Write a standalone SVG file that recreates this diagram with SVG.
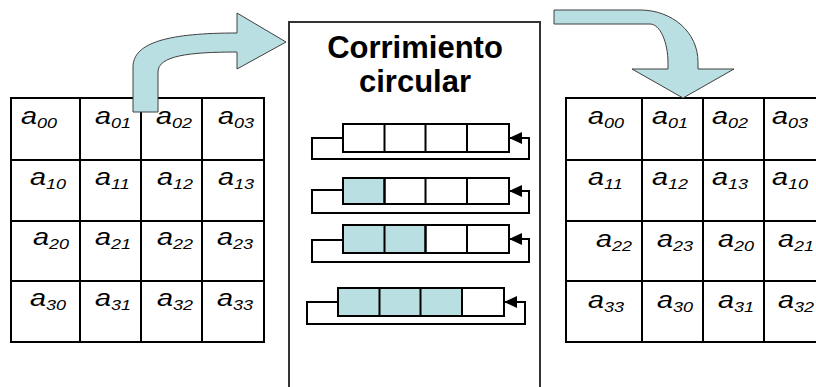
<svg xmlns="http://www.w3.org/2000/svg" width="816" height="387" viewBox="0 0 816 387">
<style>
.grid{fill:none;stroke:#000;stroke-width:2}
.cell{font-family:"Liberation Sans",Arial,sans-serif;font-style:italic;font-size:24px;fill:#000}
.sub{font-size:15px}
.title{font-family:"Liberation Sans",Arial,sans-serif;font-weight:bold;font-size:31px;fill:#000;text-anchor:middle}
.reg{stroke:#000;stroke-width:2}
.blank{fill:#fff}
.fill{fill:#BADFE2}
.loop{fill:none;stroke:#000;stroke-width:2}
.bent{fill:#BADFE2;stroke:#404040;stroke-width:1}
</style>
<defs>
<marker id="ah" markerUnits="userSpaceOnUse" markerWidth="14" markerHeight="13" refX="13" refY="6" orient="auto">
<path d="M0,0 L13,6 L0,12 Z" fill="#000"/>
</marker>
</defs>
<rect width="816" height="387" fill="#fff"/>

<g id="matrix-left">
<rect class="grid" x="11" y="98" width="253" height="244"/>
<path class="grid" d="M80,98V342M141,98V342M202,98V342M11,160H264M11,221H264M11,281H264"/>
<text class="cell" transform="translate(21,124) scale(1.2 1)">a<tspan class="sub" dy="4">00</tspan></text>
<text class="cell" transform="translate(95,124) scale(1.2 1)">a<tspan class="sub" dy="4">01</tspan></text>
<text class="cell" transform="translate(156,124) scale(1.2 1)">a<tspan class="sub" dy="4">02</tspan></text>
<text class="cell" transform="translate(218,124) scale(1.2 1)">a<tspan class="sub" dy="4">03</tspan></text>
<text class="cell" transform="translate(30,185) scale(1.2 1)">a<tspan class="sub" dy="4">10</tspan></text>
<text class="cell" transform="translate(95,185) scale(1.2 1)">a<tspan class="sub" dy="4">11</tspan></text>
<text class="cell" transform="translate(157,185) scale(1.2 1)">a<tspan class="sub" dy="4">12</tspan></text>
<text class="cell" transform="translate(218,185) scale(1.2 1)">a<tspan class="sub" dy="4">13</tspan></text>
<text class="cell" transform="translate(33,245) scale(1.2 1)">a<tspan class="sub" dy="4">20</tspan></text>
<text class="cell" transform="translate(95,245) scale(1.2 1)">a<tspan class="sub" dy="4">21</tspan></text>
<text class="cell" transform="translate(157,245) scale(1.2 1)">a<tspan class="sub" dy="4">22</tspan></text>
<text class="cell" transform="translate(217,245) scale(1.2 1)">a<tspan class="sub" dy="4">23</tspan></text>
<text class="cell" transform="translate(30,306) scale(1.2 1)">a<tspan class="sub" dy="4">30</tspan></text>
<text class="cell" transform="translate(95,306) scale(1.2 1)">a<tspan class="sub" dy="4">31</tspan></text>
<text class="cell" transform="translate(157,306) scale(1.2 1)">a<tspan class="sub" dy="4">32</tspan></text>
<text class="cell" transform="translate(217,306) scale(1.2 1)">a<tspan class="sub" dy="4">33</tspan></text>
</g>

<g id="matrix-right">
<rect class="grid" x="566" y="98" width="260" height="244"/>
<path class="grid" d="M642,98V342M703,98V342M764,98V342M566,160H826M566,221H826M566,281H826"/>
<text class="cell" transform="translate(588,124) scale(1.2 1)">a<tspan class="sub" dy="4">00</tspan></text>
<text class="cell" transform="translate(652,124) scale(1.2 1)">a<tspan class="sub" dy="4">01</tspan></text>
<text class="cell" transform="translate(712,124) scale(1.2 1)">a<tspan class="sub" dy="4">02</tspan></text>
<text class="cell" transform="translate(772,124) scale(1.2 1)">a<tspan class="sub" dy="4">03</tspan></text>
<text class="cell" transform="translate(588,185) scale(1.2 1)">a<tspan class="sub" dy="4">11</tspan></text>
<text class="cell" transform="translate(652,185) scale(1.2 1)">a<tspan class="sub" dy="4">12</tspan></text>
<text class="cell" transform="translate(712,185) scale(1.2 1)">a<tspan class="sub" dy="4">13</tspan></text>
<text class="cell" transform="translate(772,185) scale(1.2 1)">a<tspan class="sub" dy="4">10</tspan></text>
<text class="cell" transform="translate(596,247) scale(1.2 1)">a<tspan class="sub" dy="4">22</tspan></text>
<text class="cell" transform="translate(657,247) scale(1.2 1)">a<tspan class="sub" dy="4">23</tspan></text>
<text class="cell" transform="translate(718,247) scale(1.2 1)">a<tspan class="sub" dy="4">20</tspan></text>
<text class="cell" transform="translate(778,247) scale(1.2 1)">a<tspan class="sub" dy="4">21</tspan></text>
<text class="cell" transform="translate(588,308) scale(1.2 1)">a<tspan class="sub" dy="4">33</tspan></text>
<text class="cell" transform="translate(657,308) scale(1.2 1)">a<tspan class="sub" dy="4">30</tspan></text>
<text class="cell" transform="translate(718,308) scale(1.2 1)">a<tspan class="sub" dy="4">31</tspan></text>
<text class="cell" transform="translate(778,308) scale(1.2 1)">a<tspan class="sub" dy="4">32</tspan></text>
</g>

<g id="shift-box">
<path d="M289,395V22H540V395" fill="none" stroke="#333" stroke-width="2"/>
<text class="title" x="415" y="58">Corrimiento</text>
<text class="title" x="415" y="92">circular</text>
</g>

<g id="register-1">
<rect class="reg blank" x="343" y="124" width="166" height="28"/>
<path class="reg" d="M384.5,124V152M425.5,124V152M467,124V152"/>
</g>
<g id="register-2">
<rect class="reg blank" x="343" y="178" width="166" height="26"/>
<rect class="reg fill" x="343" y="178" width="41.5" height="26"/>
<path class="reg" d="M384.5,178V204M425.5,178V204M467,178V204"/>
</g>
<g id="register-3">
<rect class="reg blank" x="343" y="225" width="166" height="28"/>
<rect class="reg fill" x="343" y="225" width="82.5" height="28"/>
<path class="reg" d="M384.5,225V253M425.5,225V253M467,225V253"/>
</g>
<g id="register-4">
<rect class="reg blank" x="338" y="288" width="166" height="28"/>
<rect class="reg fill" x="338" y="288" width="124" height="28"/>
<path class="reg" d="M379.5,288V316M420.5,288V316M462,288V316"/>
</g>

<g id="connectors">
<path class="loop" marker-end="url(#ah)" d="M343,138H312V159H529V138H509"/>
<path class="loop" marker-end="url(#ah)" d="M343,190H312V213H529V191H509"/>
<path class="loop" marker-end="url(#ah)" d="M343,240H312V262H529V239H509"/>
<path class="loop" marker-end="url(#ah)" d="M338,302H307V324H525V302H504"/>
</g>

<g id="arrow-in">
<path class="bent" d="M133,112 L133,67 C133,42 170,33 237,33 L237,13 L286,42 L237,69 L237,52 C188,52 158,56 158,72 L158,112 Z"/>
</g>
<g id="arrow-out">
<path class="bent" d="M554,10 L640,10 C672,10 698,32 698,62 L698,69 L734,69 L683,98 L632,69 L668,69 L668,63 C668,42 660,24 650,24 L554,24 Z"/>
</g>
</svg>
